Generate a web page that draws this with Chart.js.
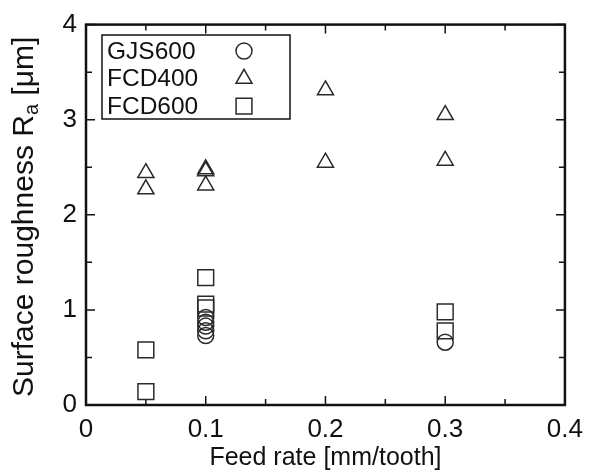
<!DOCTYPE html>
<html>
<head>
<meta charset="utf-8">
<script src="https://cdn.jsdelivr.net/npm/chart.js@4.4.1/dist/chart.umd.min.js"></script>
<style>
  html, body { margin: 0; padding: 0; background: #fff; }
  #wrap { width: 592px; height: 473px; position: relative; }
</style>
</head>
<body>
<div id="wrap"><canvas id="c"></canvas></div>
<script>
/* ── Data ── */
var feedGJS600 = [0.1, 0.1, 0.1, 0.1, 0.1, 0.3];
var raGJS600   = [0.92, 0.87, 0.83, 0.78, 0.73, 0.66];

var feedFCD400 = [0.05, 0.05, 0.1, 0.1, 0.1, 0.2, 0.2, 0.3, 0.3];
var raFCD400   = [2.44, 2.27, 2.48, 2.46, 2.31, 3.31, 2.55, 3.05, 2.57];

var feedFCD600 = [0.05, 0.05, 0.1, 0.1, 0.1, 0.3, 0.3];
var raFCD600   = [0.58, 0.14, 1.34, 1.06, 1.02, 0.98, 0.78];

var xTicks = [0, 0.1, 0.2, 0.3, 0.4];
var yTicks = [0, 1, 2, 3, 4];

var FONT = '"Liberation Sans", Arial, sans-serif';
var INK = '#111';
var MARK = '#2a2a2a';

function pts(xs, ys) {
  return xs.map(function(x, i) { return { x: x, y: ys[i] }; });
}

/* ── Frame, inward ticks, y title, legend ── */
var framePlugin = {
  id: 'frame',
  beforeDatasetsDraw: function(chart) {
    var ctx = chart.ctx, a = chart.chartArea;
    var sx = chart.scales.x, sy = chart.scales.y;
    ctx.save();
    ctx.strokeStyle = INK;
    ctx.lineWidth = 1.5;
    function mids(arr) {
      var out = [];
      for (var i = 0; i < arr.length - 1; i++) out.push((arr[i] + arr[i + 1]) / 2);
      return out;
    }
    function xTick(v, len) {
      var p = sx.getPixelForValue(v);
      ctx.beginPath();
      ctx.moveTo(p, a.bottom); ctx.lineTo(p, a.bottom - len);
      ctx.moveTo(p, a.top); ctx.lineTo(p, a.top + len);
      ctx.stroke();
    }
    function yTick(v, len) {
      var p = sy.getPixelForValue(v);
      ctx.beginPath();
      ctx.moveTo(a.left, p); ctx.lineTo(a.left + len, p);
      ctx.moveTo(a.right, p); ctx.lineTo(a.right - len, p);
      ctx.stroke();
    }
    xTicks.forEach(function(v) { xTick(v, 9); });
    mids(xTicks).forEach(function(v) { xTick(v, 6); });
    yTicks.forEach(function(v) { yTick(v, 9); });
    mids(yTicks).forEach(function(v) { yTick(v, 6); });

    ctx.lineWidth = 2.5;
    ctx.strokeRect(a.left, a.top, a.right - a.left, a.bottom - a.top);
    ctx.restore();
  },
  afterDraw: function(chart) {
    var ctx = chart.ctx, a = chart.chartArea;
    ctx.save();

    /* y axis title with subscript a */
    var big = '30px ' + FONT, small = '20px ' + FONT;
    var p1 = 'Surface roughness R', p2 = 'a', p3 = ' [\u03bcm]';
    ctx.font = big;  var w1 = ctx.measureText(p1).width, w3 = ctx.measureText(p3).width;
    ctx.font = small; var w2 = ctx.measureText(p2).width;
    var total = w1 + w2 + w3;
    ctx.translate(25, (a.top + a.bottom) / 2 + 2);
    ctx.rotate(-Math.PI / 2);
    ctx.fillStyle = INK;
    ctx.textBaseline = 'middle';
    ctx.textAlign = 'left';
    var x0 = -total / 2;
    ctx.font = big;   ctx.fillText(p1, x0, 0);
    ctx.font = small; ctx.fillText(p2, x0 + w1, 7);
    ctx.font = big;   ctx.fillText(p3, x0 + w1 + w2, 0);
    ctx.setTransform(1, 0, 0, 1, 0, 0);

    /* legend box */
    var bx = 102, by = 35, bw = 188, bh = 84;
    ctx.strokeStyle = INK;
    ctx.lineWidth = 1.5;
    ctx.strokeRect(bx, by, bw, bh);
    ctx.font = '24.5px ' + FONT;
    ctx.textBaseline = 'middle';
    chart.data.datasets.forEach(function(ds, i) {
      var y = 51 + i * 27.6;
      ctx.fillStyle = INK;
      ctx.fillText(ds.label, 107, y + 1);
      ctx.fillStyle = 'rgba(0,0,0,0)';
      ctx.strokeStyle = MARK;
      ctx.lineWidth = ds.pointBorderWidth;
      Chart.helpers.drawPoint(ctx, {
        pointStyle: ds.pointStyle, radius: ds.pointRadius,
        borderWidth: ds.pointBorderWidth, rotation: 0
      }, 244, y);
    });
    ctx.restore();
  }
};

new Chart(document.getElementById('c'), {
  type: 'scatter',
  data: {
    datasets: [
      { label: 'GJS600', data: pts(feedGJS600, raGJS600), pointStyle: 'circle', pointRadius: 8 },
      { label: 'FCD400', data: pts(feedFCD400, raFCD400), pointStyle: 'triangle', pointRadius: 9.3 },
      { label: 'FCD600', data: pts(feedFCD600, raFCD600), pointStyle: 'rect', pointRadius: 11.2 }
    ].map(function(d) {
      d.backgroundColor = 'rgba(0,0,0,0)';
      d.borderColor = MARK;
      d.pointBorderWidth = 1.5;
      d.pointHoverRadius = d.pointRadius;
      return d;
    })
  },
  options: {
    responsive: true,
    maintainAspectRatio: false,
    animation: false,
    layout: { padding: { top: 21, right: 25, left: 0, bottom: 0 } },
    plugins: { legend: { display: false }, tooltip: { enabled: false } },
    scales: {
      x: {
        type: 'linear', min: 0, max: 0.4,
        grid: { display: false, drawTicks: false },
        border: { display: false },
        afterBuildTicks: function(s) { s.ticks = xTicks.map(function(v) { return { value: v }; }); },
        afterFit: function(s) { s.height = 68; },
        ticks: {
          padding: 9, color: INK, font: { family: FONT, size: 26 },
          maxRotation: 0, autoSkip: false,
          callback: function(v) { return String(v); }
        },
        title: {
          display: true, text: 'Feed rate [mm/tooth]', color: INK,
          font: { family: FONT, size: 25 }, padding: { top: 0, bottom: 0 }
        }
      },
      y: {
        type: 'linear', min: 0, max: 4,
        grid: { display: false, drawTicks: false },
        border: { display: false },
        afterBuildTicks: function(s) { s.ticks = yTicks.map(function(v) { return { value: v }; }); },
        afterFit: function(s) { s.width = 86; },
        ticks: {
          padding: 9, color: INK, font: { family: FONT, size: 26 },
          callback: function(v) { return String(v); }
        }
      }
    }
  },
  plugins: [framePlugin]
});
</script>
</body>
</html>
